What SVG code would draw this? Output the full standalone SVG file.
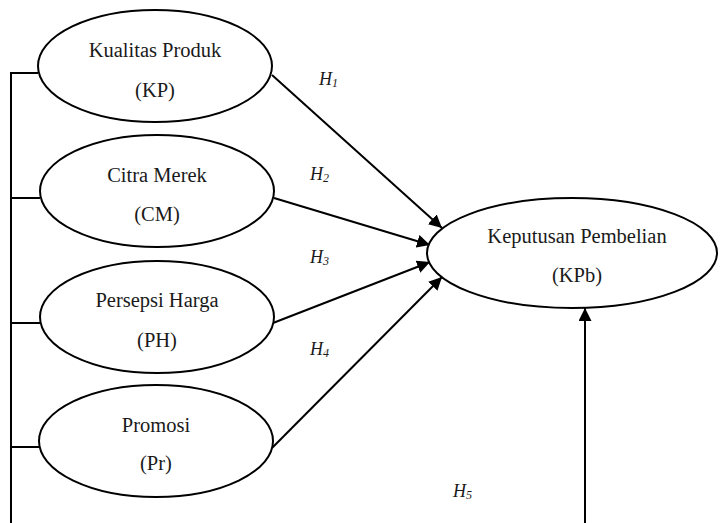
<svg xmlns="http://www.w3.org/2000/svg" width="720" height="523" viewBox="0 0 720 523">
<style>
.n{fill:#fff;stroke:#000;stroke-width:2}
.t{font-family:"Liberation Serif","Times New Roman",serif;font-size:20.5px;fill:#1a1a1a;text-anchor:middle}
.h{font-family:"Liberation Serif","Times New Roman",serif;font-size:18px;font-style:italic;fill:#1a1a1a}
.s{font-size:12px}
.c{stroke:#000;stroke-width:2;fill:none}
.a{marker-end:url(#ar)}
</style>
<defs>
<marker id="ar" viewBox="0 0 10 10" refX="10" refY="5" markerWidth="6.5" markerHeight="6.5" orient="auto" markerUnits="strokeWidth">
<path d="M0,0 L10,5 L0,10 Z" fill="#000"/>
</marker>
</defs>
<rect width="720" height="523" fill="#fff"/>
<g id="connectors">
<path class="c" d="M11,523 V73 H38 M11,198 H40 M11,323 H40 M11,447 H39"/>
<line class="c a" x1="272" y1="75" x2="442" y2="228"/>
<line class="c a" x1="274" y1="198" x2="430" y2="245"/>
<line class="c a" x1="273" y1="323" x2="430" y2="262"/>
<line class="c a" x1="272" y1="448" x2="442" y2="277"/>
<line class="c a" x1="585" y1="523" x2="585" y2="308"/>
<text class="h" x="319" y="85">H<tspan class="s" dy="2">1</tspan></text>
<text class="h" x="310" y="180">H<tspan class="s" dy="2">2</tspan></text>
<text class="h" x="310" y="263">H<tspan class="s" dy="2">3</tspan></text>
<text class="h" x="310" y="355">H<tspan class="s" dy="2">4</tspan></text>
<text class="h" x="453" y="497">H<tspan class="s" dy="2">5</tspan></text>
</g>
<g id="KP">
<ellipse class="n" cx="155" cy="66" rx="117" ry="56"/>
<text class="t" x="155" y="57">Kualitas Produk</text>
<text class="t" x="155" y="97">(KP)</text>
</g>
<g id="CM">
<ellipse class="n" cx="157" cy="191" rx="117" ry="56"/>
<text class="t" x="157" y="182">Citra Merek</text>
<text class="t" x="157" y="221">(CM)</text>
</g>
<g id="PH">
<ellipse class="n" cx="157" cy="317" rx="117" ry="56"/>
<text class="t" x="157" y="307">Persepsi Harga</text>
<text class="t" x="157" y="347">(PH)</text>
</g>
<g id="Pr">
<ellipse class="n" cx="156" cy="441" rx="117" ry="56"/>
<text class="t" x="156" y="432">Promosi</text>
<text class="t" x="156" y="470">(Pr)</text>
</g>
<g id="KPb">
<ellipse class="n" cx="572" cy="253" rx="145" ry="55"/>
<text class="t" x="577" y="243">Keputusan Pembelian</text>
<text class="t" x="577" y="282">(KPb)</text>
</g>
</svg>
